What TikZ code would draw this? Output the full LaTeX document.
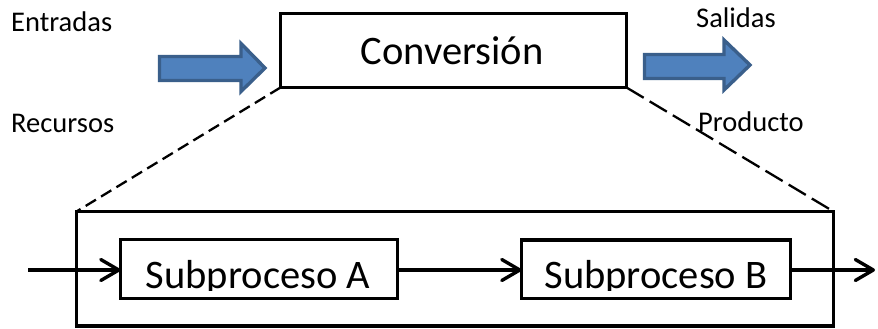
\documentclass[tikz,border=0pt]{standalone}
\usepackage{fontspec}
\setmainfont{Carlito}
\usetikzlibrary{arrows.meta}
\definecolor{blockfill}{HTML}{4F81BD}
\definecolor{blockline}{HTML}{3A5F8B}
\tikzset{
  box/.style={draw=black, line width=3.4pt},
  label/.style={inner sep=0pt, anchor=base west, font=\fontsize{28.5}{34}\selectfont},
  bigtext/.style={inner sep=0pt, anchor=base, font=\fontsize{40.5}{48}\selectfont},
  flow/.style={draw=black, line width=3.4pt,
    -{Straight Barb[length=18pt, width=21pt, line cap=round, line join=round]}},
  zoomline/.style={draw=black, line width=2.3pt},
  blockarrow/.style={fill=blockfill, draw=blockline, line width=3.4pt, line join=miter}
}
\begin{document}
\begin{tikzpicture}[x=1pt, y=-1pt]
\useasboundingbox (0,0) rectangle (878,329);

% side labels
\node[label] (entradas) at (11,32) {Entradas};
\node[label] (recursos) at (11,132) {Recursos};
\node[label] (salidas) at (696,28) {Salidas};
\node[label] (producto) at (698,131) {Producto};

% block arrows into and out of the conversion box
\draw[blockarrow] (159.5,56.5) -- (241,56.5) -- (241,43.5) -- (265,68)
  -- (241,91.5) -- (241,80.5) -- (159.5,80.5) -- cycle;
\draw[blockarrow] (644.5,54.5) -- (724,54.5) -- (724,40) -- (750,65)
  -- (724,90) -- (724,78.5) -- (644.5,78.5) -- cycle;

% conversion box
\draw[box] (280.5,13.5) rectangle (626.5,87.5);
\coordinate (convSW) at (280.5,87.5);
\coordinate (convSE) at (626.5,87.5);
\node[bigtext] (conv) at (452,65) {Conversión};

% expanded view
\draw[box] (76.5,211.5) rectangle (833.5,326);
\coordinate (bigNW) at (76.5,211.5);
\coordinate (bigNE) at (833.5,211.5);
\draw[zoomline, dash pattern=on 12pt off 6pt] (convSW) -- (bigNW);
\draw[zoomline, dash pattern=on 20pt off 7pt] (convSE) -- (bigNE);

% subprocess boxes; each label is cut off just below its baseline
\begin{scope}
  \clip (120.5,239.5) rectangle (397.5,290.5);
  \node[bigtext] (subA) at (258,288) {Subproceso A};
\end{scope}
\draw[box] (120.5,239.5) rectangle (397.5,298.5);
\coordinate (AW) at (120.5,270);
\coordinate (AE) at (397.5,270);

\begin{scope}
  \clip (521.5,240) rectangle (790.5,290.5);
  \node[bigtext] (subB) at (656,288) {Subproceso B};
\end{scope}
\draw[box] (521.5,240) rectangle (790.5,298.5);
\coordinate (BW) at (521.5,270);
\coordinate (BE) at (790.5,270);

% flow through the subprocesses
\coordinate (inflow) at (28,270);
\coordinate (outflow) at (875,270);
\draw[flow] (inflow) -- (AW);
\draw[flow] (AE) -- (BW);
\draw[flow] (BE) -- (outflow);
\end{tikzpicture}
\end{document}
